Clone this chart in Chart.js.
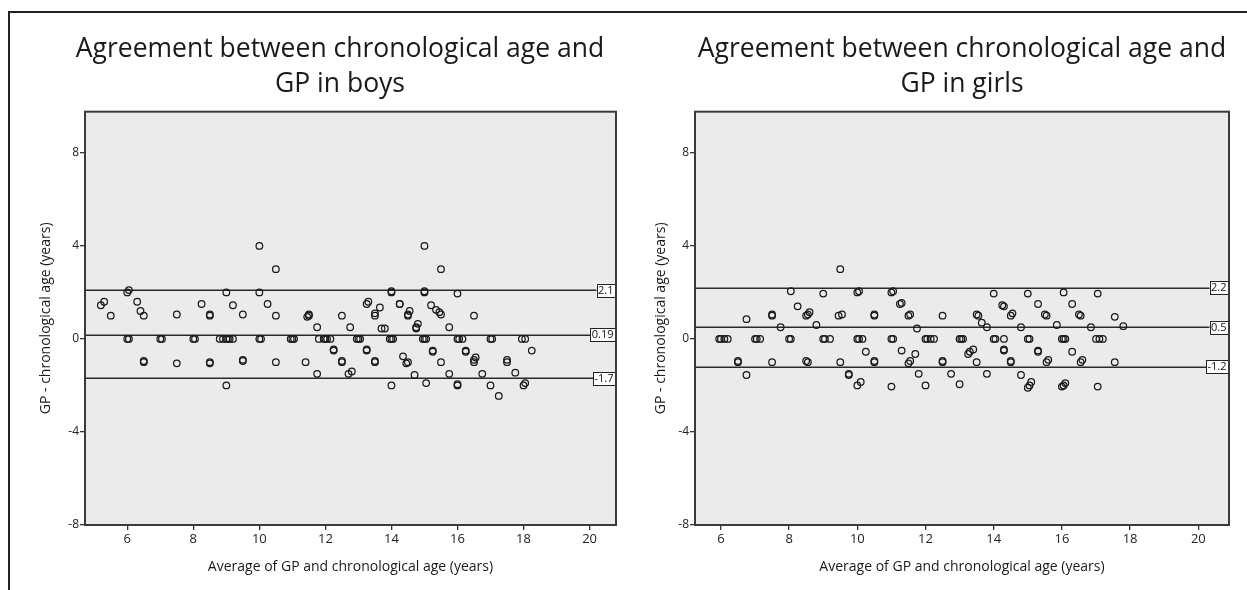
<!DOCTYPE html>
<html>
<head>
<meta charset="utf-8">
<script src="https://cdn.jsdelivr.net/npm/chart.js@4.4.0/dist/chart.umd.min.js"></script>
<style>
  html, body { margin:0; padding:0; background:#fff; width:1247px; height:590px; overflow:hidden; }
  #frame { position:absolute; left:8px; top:11px; width:1260px; height:600px; border-top:2px solid #222; border-left:2px solid #222; }
  .box { position:absolute; }
</style>
</head>
<body>
<div id="frame"></div>
<div class="box" style="left:10px; top:13px; width:620px; height:577px;"><canvas id="boys"></canvas></div>
<div class="box" style="left:625px; top:13px; width:615px; height:577px;"><canvas id="girls"></canvas></div>
<script>
// ---------------- data ----------------
const boysTitle = ['Agreement between chronological age and', 'GP in boys'];
const girlsTitle = ['Agreement between chronological age and', 'GP in girls'];
const xAxisTitle = 'Average of GP and chronological age (years)';
const yAxisTitle = 'GP - chronological age (years)';
const xTickValues = [6, 8, 10, 12, 14, 16, 18, 20];
const yTickValues = [-8, -4, 0, 4, 8];

const boysAvg = [
  5.2,5.3,5.5,6.0,6.05,6.3,6.4,6.5,7.5,8.25,8.5,8.5,9.0,9.2,9.5,10.0,10.0,10.25,10.5,10.5,11.5,11.5,11.45,11.75,12.5,12.75,
  13.25,13.3,13.5,13.5,13.65,13.7,13.8,14.0,14.0,14.25,14.25,14.5,14.5,14.55,14.75,14.75,14.8,15.0,15.0,15.0,15.2,15.35,15.5,15.5,15.45,15.75,16.0,16.5,
  6.0,6.05,7.0,7.05,8.0,8.05,8.8,8.9,9.0,9.05,9.1,9.2,10.0,10.05,10.95,11.0,11.05,11.8,11.95,12.0,12.05,12.15,12.95,13.0,13.05,13.95,14.0,14.05,14.95,15.0,15.05,16.0,16.05,16.15,17.0,17.05,17.95,18.05,
  6.5,6.5,7.5,8.5,8.5,9.0,9.5,9.5,10.5,11.4,11.75,12.25,12.25,12.5,12.5,12.7,12.8,13.25,13.25,13.5,13.5,14.0,14.35,14.5,14.45,14.7,15.05,15.25,15.25,15.5,15.75,16.0,16.0,16.25,16.25,16.5,16.55,16.5,16.75,17.0,17.25,17.5,17.5,17.75,18.0,18.05,18.25
];
const boysDiff = [
  1.45,1.6,1.0,2.0,2.1,1.6,1.2,1.0,1.05,1.5,1.0,1.05,2.0,1.45,1.05,4.0,2.0,1.5,3.0,1.0,1.0,1.05,0.95,0.5,1.0,0.5,
  1.5,1.6,1.0,1.1,1.35,0.45,0.45,2.0,2.05,1.5,1.5,1.0,1.05,1.2,0.5,0.45,0.65,4.0,2.0,2.05,1.45,1.25,3.0,1.05,1.15,0.5,1.95,1.0,
  0,0,0,0,0,0,0,0,0,0,0,0,0,0,0,0,0,0,0,0,0,0,0,0,0,0,0,0,0,0,0,0,0,0,0,0,0,0,
  -1.0,-0.95,-1.05,-1.0,-1.05,-2.0,-0.95,-0.9,-1.0,-1.0,-1.5,-0.5,-0.45,-1.0,-0.95,-1.5,-1.4,-0.5,-0.45,-1.0,-0.95,-2.0,-0.75,-1.0,-1.05,-1.55,-1.9,-0.5,-0.55,-1.0,-1.5,-2.0,-1.95,-0.5,-0.55,-1.0,-0.8,-0.9,-1.5,-2.0,-2.45,-0.9,-1.0,-1.45,-2.0,-1.9,-0.5
];
const boysLimits = [2.1, 0.19, -1.7];
const boysLimitLabels = ['2.1', '0.19', '-1.7'];

const girlsAvg = [
  6.75,7.5,7.5,7.75,8.05,8.25,8.5,8.55,8.6,8.8,9.0,9.45,9.5,9.55,10.0,10.05,10.5,10.5,11.0,11.05,11.25,11.3,11.55,11.5,11.75,12.5,
  13.55,13.5,13.65,13.8,14.0,14.25,14.3,14.5,14.55,14.8,15.0,15.3,15.55,15.5,15.85,16.05,16.3,16.55,16.5,16.85,17.05,17.55,17.8,
  5.95,6.0,6.1,6.2,7.0,7.05,7.15,8.0,8.05,9.0,9.05,9.2,10.0,10.05,10.15,11.0,11.05,12.0,12.05,12.15,12.25,13.0,13.05,13.1,14.0,14.05,14.3,15.0,15.05,16.0,16.05,16.1,17.0,17.1,17.2,
  6.5,6.5,6.75,7.5,8.5,8.55,9.5,9.75,9.75,10.0,10.1,10.25,10.5,10.5,11.0,11.3,11.5,11.55,11.7,11.8,12.0,12.5,12.5,12.75,13.0,13.25,13.3,13.4,13.5,13.8,
  14.3,14.3,14.5,14.5,14.8,15.0,15.05,15.1,15.3,15.3,15.55,15.6,16.0,16.05,16.1,16.3,16.55,16.6,17.05,17.55
];
const girlsDiff = [
  0.85,1.0,1.05,0.5,2.05,1.4,1.0,1.05,1.15,0.6,1.95,1.0,3.0,1.05,2.0,2.05,1.0,1.05,2.0,2.05,1.5,1.55,1.05,1.0,0.45,1.0,
  1.0,1.05,0.7,0.5,1.95,1.45,1.4,1.0,1.1,0.5,1.95,1.5,1.0,1.05,0.6,2.0,1.5,1.0,1.05,0.5,1.95,0.95,0.55,
  0,0,0,0,0,0,0,0,0,0,0,0,0,0,0,0,0,0,0,0,0,0,0,0,0,0,0,0,0,0,0,0,0,0,0,
  -1.0,-0.95,-1.55,-1.0,-0.95,-1.0,-1.0,-1.55,-1.5,-2.0,-1.85,-0.55,-1.0,-0.95,-2.05,-0.5,-1.05,-0.95,-0.65,-1.5,-2.0,-1.0,-0.95,-1.5,-1.95,-0.65,-0.55,-0.45,-1.0,-1.5,
  -0.5,-0.45,-1.0,-0.95,-1.55,-2.1,-2.0,-1.85,-0.55,-0.5,-1.0,-0.9,-2.05,-2.0,-1.9,-0.55,-1.0,-0.9,-2.05,-1.0
];
const girlsLimits = [2.2, 0.5, -1.2];
const girlsLimitLabels = ['2.2', '0.5', '-1.2'];

// ---------------- drawing ----------------
const FONT = '"Open Sans", "Noto Sans", sans-serif';
const INK = '#1a1a1a';

const blandAltmanPlugin = {
  id: 'blandAltman',
  beforeDatasetsDraw(chart, args, opts) {
    const {ctx, chartArea: a, scales: {y}} = chart;
    ctx.save();
    ctx.fillStyle = '#ebebeb';
    ctx.fillRect(a.left, a.top, a.right - a.left, a.bottom - a.top);
    ctx.strokeStyle = '#2a2a2a';
    ctx.lineWidth = 1.5;
    opts.limits.forEach(v => {
      const py = Math.round(y.getPixelForValue(v)) + 0.25;
      ctx.beginPath(); ctx.moveTo(a.left, py); ctx.lineTo(a.right, py); ctx.stroke();
    });
    ctx.restore();
  },
  afterDatasetsDraw(chart, args, opts) {
    const {ctx, chartArea: a, scales: {y}} = chart;
    ctx.save();
    ctx.font = '11px ' + FONT;
    ctx.textBaseline = 'middle';
    ctx.textAlign = 'left';
    opts.limits.forEach((v, i) => {
      const txt = opts.labels[i];
      const w = ctx.measureText(txt).width + 3;
      const h = 13;
      const py = y.getPixelForValue(v);
      const x0 = a.right - w - 1;
      ctx.fillStyle = '#fff';
      ctx.fillRect(x0, py - h / 2, w, h);
      ctx.strokeStyle = '#222';
      ctx.lineWidth = 1;
      ctx.strokeRect(Math.round(x0) + 0.5, Math.round(py - h / 2) + 0.5, Math.round(w), h);
      ctx.fillStyle = '#111';
      ctx.fillText(txt, x0 + 1.5, py + 0.5);
    });
    ctx.strokeStyle = '#3a3a3a';
    ctx.lineWidth = 2;
    ctx.strokeRect(a.left, a.top, a.right - a.left, a.bottom - a.top);
    ctx.restore();
  }
};

function makeChart(id, title, xs, ys, xMin, xMax, limits, labels, pad, yWidth, yTitlePad, titleFull) {
  const pts = xs.map((x, i) => ({x: x, y: ys[i]}));
  return new Chart(document.getElementById(id), {
    type: 'scatter',
    data: { datasets: [{
      data: pts,
      pointStyle: 'circle',
      pointRadius: 3.3,
      pointHoverRadius: 3.3,
      pointBorderWidth: 1.25,
      borderColor: INK,
      backgroundColor: 'rgba(0,0,0,0)'
    }]},
    options: {
      responsive: true,
      maintainAspectRatio: false,
      animation: false,
      events: [],
      layout: { padding: { left: pad[0], right: pad[1], top: 0, bottom: 0 } },
      plugins: {
        legend: { display: false },
        tooltip: { enabled: false },
        title: {
          display: true,
          fullSize: titleFull,
          text: title,
          color: '#1a1a1a',
          font: { family: FONT, size: 26.5, weight: 'normal', lineHeight: 1.33 },
          padding: { top: 19, bottom: 9.2 }
        },
        blandAltman: { limits: limits, labels: labels }
      },
      scales: {
        x: {
          type: 'linear', min: xMin, max: xMax,
          afterBuildTicks: s => { s.ticks = xTickValues.map(v => ({value: v})); },
          afterFit: s => { s.height = 65; },
          grid: { display: true, drawOnChartArea: false, drawTicks: true, tickLength: 5, color: '#333', lineWidth: 1.3 },
          border: { display: false },
          ticks: { color: '#222', font: { family: FONT, size: 13 }, padding: 1, maxRotation: 0 },
          title: { display: true, text: xAxisTitle, color: '#1a1a1a', font: { family: FONT, size: 14 }, padding: { top: 0, bottom: 15 } }
        },
        y: {
          type: 'linear', min: -8, max: 9.77,
          afterBuildTicks: s => { s.ticks = yTickValues.map(v => ({value: v})); },
          afterFit: s => { s.width = yWidth; },
          grid: { display: true, drawOnChartArea: false, drawTicks: true, tickLength: 5, color: '#333', lineWidth: 1.3 },
          border: { display: false },
          ticks: { color: '#222', font: { family: FONT, size: 12 }, padding: 1 },
          title: { display: true, text: yAxisTitle, color: '#1a1a1a', font: { family: FONT, size: 14 }, padding: { top: yTitlePad, bottom: 0 } }
        }
      }
    },
    plugins: [blandAltmanPlugin]
  });
}

makeChart('boys', boysTitle, boysAvg, boysDiff, 4.72, 20.8, boysLimits, boysLimitLabels, [54, 14], 21, -26, true);
makeChart('girls', girlsTitle, girlsAvg, girlsDiff, 5.24, 20.9, girlsLimits, girlsLimitLabels, [0, 11], 70, 28, false);
</script>
</body>
</html>
